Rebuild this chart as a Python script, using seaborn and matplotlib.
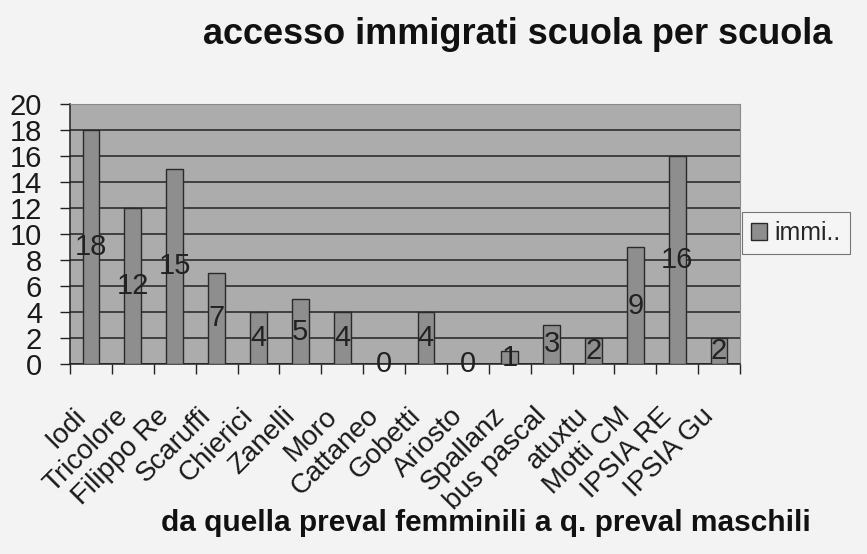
import matplotlib
matplotlib.use("Agg")
import matplotlib.pyplot as plt
import matplotlib.transforms as mtransforms
import seaborn as sns
import pandas as pd
import numpy as np

# scuole, ordinate da quella a prevalenza femminile a quella a prevalenza maschile
schools = ["Iodi", "Tricolore", "Filippo Re", "Scaruffi", "Chierici", "Zanelli",
           "Moro", "Cattaneo", "Gobetti", "Ariosto", "Spallanz", "bus pascal",
           "atuxtu", "Motti CM", "IPSIA RE", "IPSIA Gu"]
immigrati = [18, 12, 15, 7, 4, 5, 4, 0, 4, 0, 1, 3, 2, 9, 16, 2]
y_ticks = list(range(0, 21, 2))

df = pd.DataFrame({"scuola": schools, "immi..": immigrati})

sns.set_theme(style="white")
plt.rcParams["font.family"] = ["Liberation Sans", "DejaVu Sans"]

fig = plt.figure(figsize=(8.67, 5.54), dpi=100, facecolor="#f3f3f3")
ax = fig.add_axes([70 / 867, 1 - 364 / 554, 670 / 867, 260 / 554])
ax.set_facecolor("#acacac")

sns.barplot(data=df, x="scuola", y="immi..", color="#8e8e8e", width=0.4,
            edgecolor="#2a2a2a", linewidth=1.0, saturation=1, ax=ax, zorder=3)

ax.bar_label(ax.containers[0], labels=[str(v) for v in immigrati],
             label_type="center", fontsize=21, color="#222222", zorder=4)

ax.set_ylim(0, 20)
ax.set_xlim(-0.5, len(schools) - 0.5)
ax.set_yticks(y_ticks)
ax.set_yticklabels([str(t) for t in y_ticks], fontsize=21, color="#1a1a1a")
ax.yaxis.grid(True, color="#222222", linewidth=1.1, zorder=0)
ax.set_axisbelow(True)

# tick marks between the categories, labels rotated
ax.set_xticks(range(len(schools)))
ax.set_xticklabels(schools, rotation=45, ha="right", rotation_mode="default",
                   fontsize=20, color="#1a1a1a")
shift = mtransforms.ScaledTranslation(6 / 100, 0, fig.dpi_scale_trans)
for lab in ax.get_xticklabels():
    lab.set_transform(lab.get_transform() + shift)
ax.set_xticks(np.arange(-0.5, len(schools), 1), minor=True)
ax.tick_params(axis="x", which="major", length=0, pad=28)
ax.tick_params(axis="x", which="minor", length=7, width=1.0, color="#222222",
               direction="out", bottom=True)
ax.tick_params(axis="y", length=7, width=1.0, color="#222222", direction="out",
               left=True, pad=13)
ax.set_xlabel("")
ax.set_ylabel("")

for side in ["left", "bottom"]:
    ax.spines[side].set_color("#222222")
    ax.spines[side].set_linewidth(1.1)
for side in ["top", "right"]:
    ax.spines[side].set_color("#8a8a8a")
    ax.spines[side].set_linewidth(0.8)

fig.text(518 / 867, 1 - 35 / 554, "accesso immigrati scuola per scuola",
         ha="center", va="center", fontsize=26, fontweight="bold", color="#111111")
fig.text(486 / 867, 1 - 523 / 554, "da quella preval femminili a q. preval maschili",
         ha="center", va="center", fontsize=21.5, fontweight="bold", color="#111111")

leg = fig.legend(handles=[ax.containers[0][0]], labels=["immi.."],
                 loc="center left", bbox_to_anchor=(742 / 867, 1 - 233 / 554),
                 fontsize=18, frameon=True, fancybox=False, edgecolor="#555555",
                 facecolor="#f6f6f6", handlelength=0.65, handleheight=0.65,
                 handletextpad=0.3, borderpad=0.35, borderaxespad=0)
leg.get_frame().set_linewidth(0.8)

fig.savefig("out.png", dpi=100, facecolor=fig.get_facecolor())
